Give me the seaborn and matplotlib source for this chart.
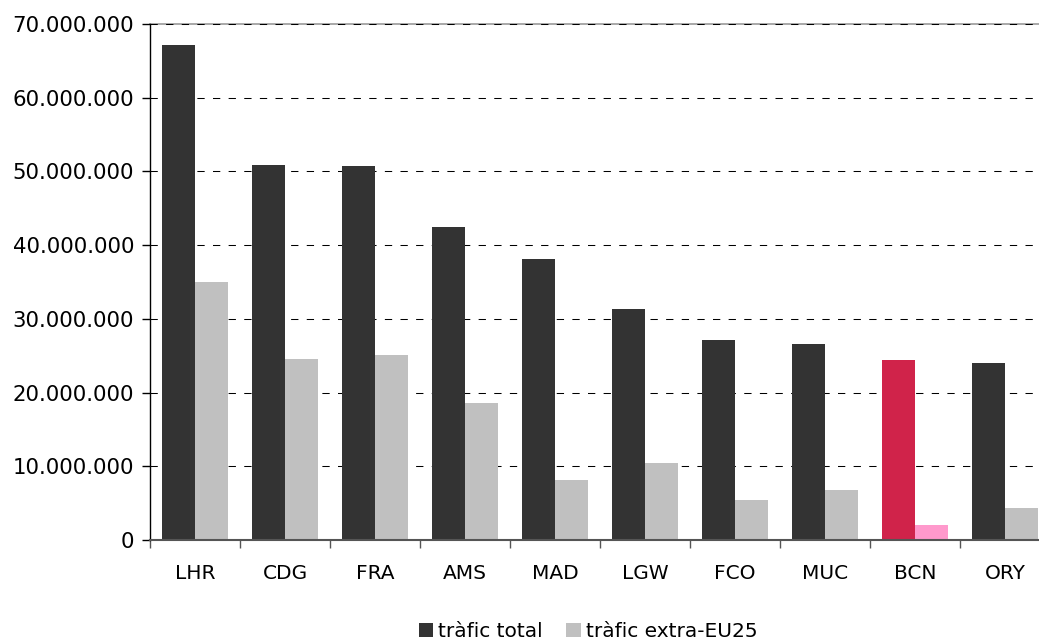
import matplotlib
matplotlib.use("Agg")
import matplotlib.pyplot as plt
from matplotlib.ticker import FuncFormatter, FixedLocator, MultipleLocator
from matplotlib.patches import Patch
import numpy as np
import pandas as pd
import seaborn as sns

# Passenger traffic per airport
airports = ["LHR", "CDG", "FRA", "AMS", "MAD", "LGW", "FCO", "MUC", "BCN", "ORY"]
total_traffic = [67150000, 50870000, 50740000, 42460000, 38120000,
                 31340000, 27130000, 26590000, 24420000, 24010000]
extra_eu25 = [35000000, 24560000, 25100000, 18590000, 8140000,
              10450000, 5430000, 6780000, 2030000, 4340000]
series_names = ["tràfic total", "tràfic extra-EU25"]

dark, light = "#333333", "#C0C0C0"
highlight_dark, highlight_light = "#D0234A", "#FF99CC"
highlight = "BCN"

df = pd.DataFrame({
    "airport": airports * 2,
    "traffic": total_traffic + extra_eu25,
    "series": [series_names[0]] * len(airports) + [series_names[1]] * len(airports),
})

sns.set_theme(style="white")
plt.rcParams["font.family"] = ["DejaVu Sans"]
plt.rcParams["text.color"] = "black"

fig = plt.figure(figsize=(10.39, 6.39), dpi=100)
ax = fig.add_axes([150 / 1039, 99 / 639, 900 / 1039, 516 / 639])

sns.barplot(data=df, x="airport", y="traffic", hue="series", order=airports,
            hue_order=series_names, palette=[dark, light], width=0.73,
            saturation=1, linewidth=0, legend=False, ax=ax)

# Highlight Barcelona
idx = airports.index(highlight)
ax.containers[0][idx].set_facecolor(highlight_dark)
ax.containers[1][idx].set_facecolor(highlight_light)

ax.set_xlim(-0.5, len(airports) - 0.5)
ax.set_ylim(0, 70000000)
ax.yaxis.set_major_locator(MultipleLocator(10000000))
ax.yaxis.set_major_formatter(FuncFormatter(lambda v, p: f"{int(v):,}".replace(",", ".")))

ax.set_axisbelow(True)
ax.yaxis.grid(True, color="black", linewidth=0.75, linestyle=(0, (7, 8)))
ax.xaxis.grid(False)

ax.set_xlabel("")
ax.set_ylabel("")

# Ticks between categories on x; labels centred on categories
ax.xaxis.set_minor_locator(FixedLocator(np.arange(-0.5, len(airports), 1.0)))
ax.tick_params(axis="x", which="major", length=0, pad=17, labelsize=14.5, labelcolor="black")
ax.tick_params(axis="x", which="minor", length=5.5, width=1, color="#555555", bottom=True)
ax.tick_params(axis="y", which="major", length=5.5, width=1, color="black", left=True,
               pad=6, labelsize=15.3, labelcolor="black")

ax.spines["right"].set_visible(False)
ax.spines["left"].set_color("black")
ax.spines["left"].set_linewidth(1)
ax.spines["bottom"].set_color("#555555")
ax.spines["bottom"].set_linewidth(1.5)
ax.spines["top"].set_color("#999999")
ax.spines["top"].set_linewidth(1.2)
ax.spines["top"].set_zorder(0.5)

handles = [Patch(facecolor=dark, edgecolor="none"), Patch(facecolor=light, edgecolor="none")]
fig.legend(handles, series_names, loc="center", bbox_to_anchor=(0.566, 0.012),
           ncol=2, frameon=False, fontsize=14.5, handlelength=0.72, handleheight=0.72,
           handletextpad=0.25, columnspacing=1.15, borderaxespad=0, borderpad=0,
           labelcolor="black")

fig.savefig("out.png", dpi=100)
